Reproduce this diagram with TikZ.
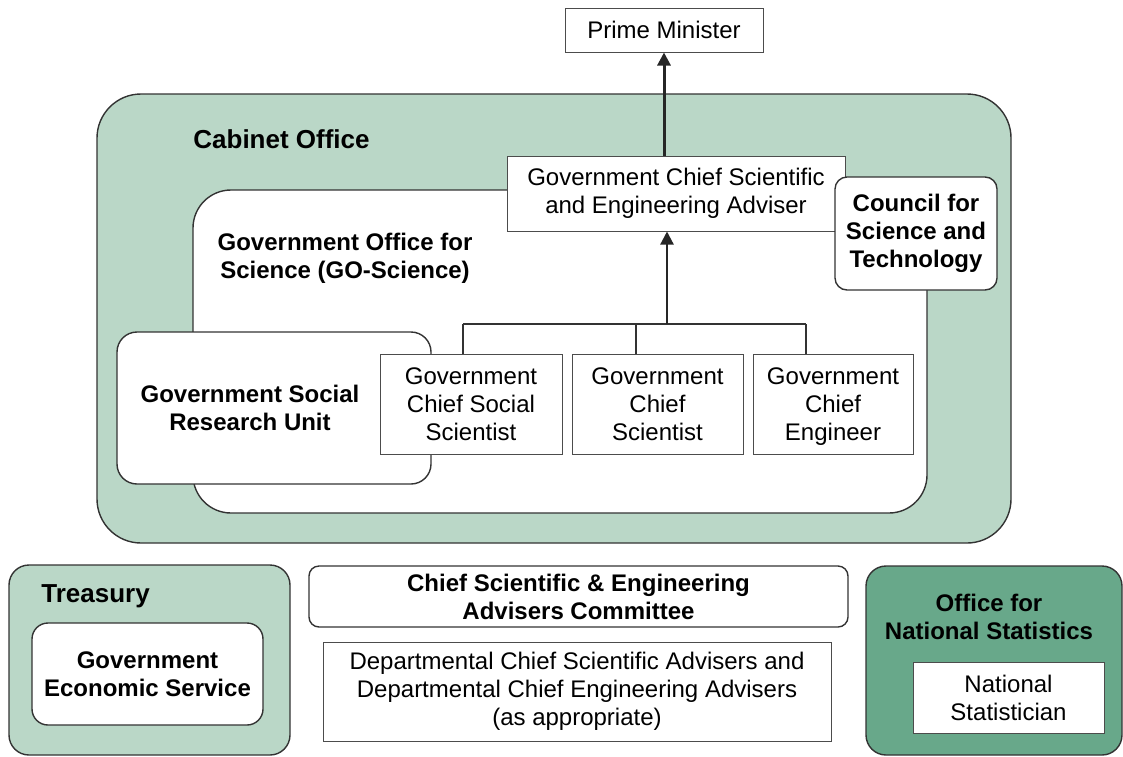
\documentclass[tikz,border=0pt]{standalone}
\usepackage{fontspec}
\setmainfont{Liberation Sans}
\usetikzlibrary{arrows.meta}

\definecolor{vertclair}{RGB}{186,215,199}
\definecolor{vertfonce}{RGB}{104,168,138}

\tikzset{
    boite/.style={draw=black!70, fill=white, line width=0.5pt, inner sep=0pt, align=center, font=\fontsize{12}{14}\selectfont},
    bloc/.style={boite, draw=black!80, line width=0.7pt},
    titre/.style={align=center, inner sep=0pt, font=\bfseries\fontsize{12}{14}\selectfont},
    grandtitre/.style={titre, font=\bfseries\fontsize{13}{15}\selectfont},
    lien/.style={draw=black!80, line width=0.75pt},
    fleche/.style={draw=black!85, line width=1.5pt, -{Triangle[length=6.5pt,width=6.5pt]}},
}

\begin{document}
\begin{tikzpicture}[x=0.5pt,y=-0.5pt]
    \useasboundingbox (0,0) rectangle (1123,756);

    % cabinet office et GO-Science
    \node[bloc, fill=vertclair, rounded corners=22pt, minimum width=457pt, minimum height=224.5pt] (cabinet) at (554,318.5) {};
    \node[grandtitre, anchor=west] (cabinetTitre) at (193,139) {Cabinet Office};
    \node[bloc, rounded corners=19pt, minimum width=367pt, minimum height=161.5pt] (goscience) at (560,351.5) {};
    \node[titre] (goscienceTitre) at (345,258) {Government Office for\\Science (GO-Science)};

    % conseiller en chef et conseil
    \node[boite, minimum width=169pt, minimum height=37.5pt] (gcsea) at (676,193.5) {Government Chief Scientific\\and Engineering Adviser};
    \node[bloc, rounded corners=6pt, minimum width=81pt, minimum height=56.5pt, font=\bfseries\fontsize{12}{14}\selectfont] (cst) at (916,233.5) {Council for\\Science and\\Technology};

    % unite de recherche sociale
    \node[bloc, rounded corners=10pt, minimum width=157pt, minimum height=76pt] (gsru) at (274,408) {};
    \node[titre] (gsruTitre) at (250,408) {Government Social\\Research Unit};

    % les trois chefs
    \node[boite, minimum width=91pt, minimum height=50pt] (gcss) at (471,404) {Government\\Chief Social\\Scientist};
    \node[boite, minimum width=85.5pt, minimum height=50pt] (gcs) at (657.5,404) {Government\\Chief\\Scientist};
    \node[boite, minimum width=80pt, minimum height=50pt] (gce) at (833,404) {Government\\Chief\\En\smash{g}ineer};

    % liens vers le conseiller en chef
    \coordinate (bus) at (667,324);
    \coordinate (bus1) at (463,324);
    \coordinate (bus2) at (636,324);
    \coordinate (bus3) at (806,324);
    \draw[lien] (bus1) -- (bus3);
    \draw[lien] (bus1) -- (bus1 |- gcss.north);
    \draw[lien] (bus2) -- (bus2 |- gcs.north);
    \draw[lien] (bus3) -- (bus3 |- gce.north);
    \draw[fleche, line width=1.1pt] (bus) -- (bus |- gcsea.south);

    % premier ministre
    \node[boite, minimum width=99pt, minimum height=22pt] (pm) at (664,30) {Prime Minister};
    \draw[fleche] (pm.south |- gcsea.north) -- (pm.south);

    % tresor
    \node[bloc, fill=vertclair, rounded corners=10pt, minimum width=140.5pt, minimum height=95pt] (treasury) at (149.5,660) {};
    \node[grandtitre, anchor=west] (treasuryTitre) at (41,596) {Treasury};
    \node[bloc, rounded corners=8pt, minimum width=115.5pt, minimum height=51pt, font=\bfseries\fontsize{12}{14}\selectfont] (ges) at (147.5,674) {Government\\Economic Service};

    % comite des conseillers
    \node[bloc, rounded corners=5pt, minimum width=269.5pt, minimum height=30.5pt, font=\bfseries\fontsize{12}{14}\selectfont] (cseac) at (578.5,596.5) {Chief Scientific \& Engineering\\Advisers Committee};
    \node[boite, minimum width=254pt, minimum height=49.5pt] (dept) at (577,691.5) {Departmental Chief Scientific Advisers and\\Departmental Chief Engineering Advisers\\(as appropriate)};

    % office for national statistics
    \node[bloc, fill=vertfonce, rounded corners=10pt, minimum width=128pt, minimum height=94.5pt] (ons) at (994,660.5) {};
    \node[titre] (onsTitre) at (989,616.5) {Office for\\National Statistics};
    \node[boite, minimum width=95.5pt, minimum height=35.5pt] (ns) at (1008.5,697.5) {National\\Statistician};
\end{tikzpicture}
\end{document}
